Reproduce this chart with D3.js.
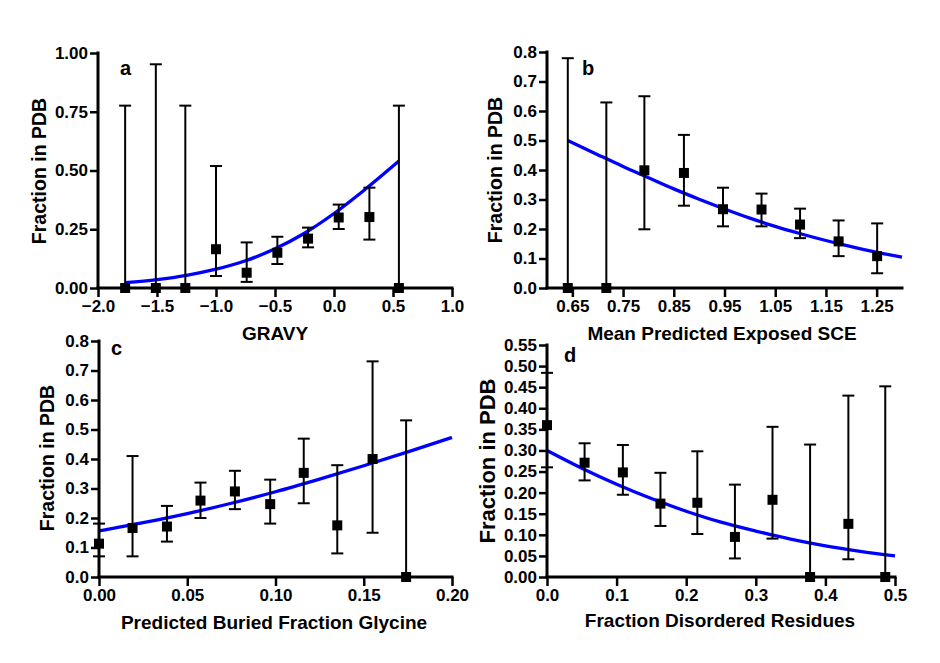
<!DOCTYPE html>
<html>
<head>
<meta charset="utf-8">
<script src="https://cdn.jsdelivr.net/npm/d3@7"></script>
<style>
  html, body { margin: 0; padding: 0; background: #fff; }
  svg { display: block; }
  text { font-family: "Liberation Sans", Arial, Helvetica, sans-serif; font-weight: bold; fill: #000; }
</style>
</head>
<body>
<svg id="chart" width="940" height="663"></svg>
<script>
// ---------- Panel a: GRAVY ----------
const aX      = [-1.77, -1.51, -1.26, -1.00, -0.74, -0.48, -0.22, 0.04, 0.30, 0.55];
const aY      = [0.00, 0.00, 0.00, 0.165, 0.065, 0.150, 0.210, 0.300, 0.302, 0.00];
const aHigh   = [0.776, 0.952, 0.776, 0.519, 0.194, 0.218, 0.257, 0.355, 0.427, 0.776];
const aLow    = [0.00, 0.00, 0.00, 0.051, 0.026, 0.102, 0.173, 0.251, 0.206, 0.00];
const aFitX   = [-1.77, -1.5, -1.25, -1.0, -0.75, -0.5, -0.25, 0.0, 0.25, 0.55];
const aFitY   = [0.023, 0.036, 0.054, 0.080, 0.116, 0.167, 0.233, 0.317, 0.414, 0.540];
const aXTicks = [-2.0, -1.5, -1.0, -0.5, 0.0, 0.5, 1.0];
const aYTicks = [0.00, 0.25, 0.50, 0.75, 1.00];

// ---------- Panel b: Mean Predicted Exposed SCE ----------
const bX      = [0.641, 0.717, 0.792, 0.870, 0.947, 1.023, 1.099, 1.175, 1.251];
const bY      = [0.00, 0.00, 0.399, 0.390, 0.267, 0.266, 0.215, 0.158, 0.108];
const bHigh   = [0.779, 0.629, 0.650, 0.519, 0.340, 0.320, 0.269, 0.229, 0.219];
const bLow    = [0.00, 0.00, 0.199, 0.279, 0.209, 0.209, 0.169, 0.108, 0.050];
const bFitX   = [0.641, 0.70, 0.75, 0.80, 0.85, 0.90, 0.95, 1.00, 1.05, 1.10, 1.15, 1.20, 1.25, 1.30];
const bFitY   = [0.500, 0.452, 0.412, 0.374, 0.336, 0.301, 0.268, 0.237, 0.209, 0.184, 0.161, 0.140, 0.121, 0.105];
const bXTicks = [0.65, 0.75, 0.85, 0.95, 1.05, 1.15, 1.25];
const bYTicks = [0.0, 0.1, 0.2, 0.3, 0.4, 0.5, 0.6, 0.7, 0.8];

// ---------- Panel c: Predicted Buried Fraction Glycine ----------
const cX      = [0.000, 0.019, 0.0385, 0.0575, 0.077, 0.097, 0.116, 0.135, 0.155, 0.174];
const cY      = [0.113, 0.166, 0.171, 0.259, 0.290, 0.247, 0.353, 0.175, 0.400, 0.000];
const cHigh   = [0.181, 0.410, 0.241, 0.320, 0.360, 0.330, 0.469, 0.379, 0.731, 0.531];
const cLow    = [0.070, 0.070, 0.120, 0.200, 0.230, 0.181, 0.250, 0.080, 0.150, 0.000];
const cFitX   = [0.0, 0.025, 0.05, 0.075, 0.10, 0.125, 0.15, 0.175, 0.20];
const cFitY   = [0.156, 0.184, 0.215, 0.250, 0.289, 0.332, 0.377, 0.424, 0.473];
const cXTicks = [0.00, 0.05, 0.10, 0.15, 0.20];
const cYTicks = [0.0, 0.1, 0.2, 0.3, 0.4, 0.5, 0.6, 0.7, 0.8];

// ---------- Panel d: Fraction Disordered Residues ----------
const dX      = [0.000, 0.054, 0.109, 0.163, 0.216, 0.270, 0.324, 0.378, 0.433, 0.486];
const dY      = [0.360, 0.271, 0.248, 0.174, 0.176, 0.095, 0.183, 0.000, 0.126, 0.000];
const dHigh   = [0.484, 0.317, 0.313, 0.247, 0.298, 0.219, 0.356, 0.314, 0.430, 0.452];
const dLow    = [0.260, 0.229, 0.195, 0.121, 0.102, 0.044, 0.091, 0.000, 0.042, 0.000];
const dFitX   = [0.0, 0.05, 0.10, 0.15, 0.20, 0.25, 0.30, 0.35, 0.40, 0.45, 0.50];
const dFitY   = [0.300, 0.258, 0.220, 0.186, 0.156, 0.130, 0.109, 0.090, 0.074, 0.061, 0.050];
const dXTicks = [0.0, 0.1, 0.2, 0.3, 0.4, 0.5];
const dYTicks = [0.00, 0.05, 0.10, 0.15, 0.20, 0.25, 0.30, 0.35, 0.40, 0.45, 0.50, 0.55];

const yTitle = "Fraction in PDB";

const panels = [
  { letter: "a", x: aX, y: aY, hi: aHigh, lo: aLow, fx: aFitX, fy: aFitY,
    xDom: [-2.0, 1.0], yDom: [0, 1.0], xTicks: aXTicks, yTicks: aYTicks, xFmt: ".1f", yFmt: ".2f",
    left: 98, right: 452, top: 53, bottom: 288,
    xTitle: "GRAVY", xTitleX: 275, xTitleY: 340, xTitleSize: 19,
    yTitleX: 46, yTitleY: 171, yTitleSize: 19.5, letterX: 120, letterY: 75 },
  { letter: "b", x: bX, y: bY, hi: bHigh, lo: bLow, fx: bFitX, fy: bFitY,
    xDom: [0.6, 1.3], yDom: [0, 0.8], xTicks: bXTicks, yTicks: bYTicks, xFmt: ".2f", yFmt: ".1f",
    left: 547, right: 902, top: 52, bottom: 288,
    xTitle: "Mean Predicted Exposed SCE", xTitleX: 722, xTitleY: 340, xTitleSize: 19,
    yTitleX: 502, yTitleY: 170, yTitleSize: 19.5, letterX: 582, letterY: 75 },
  { letter: "c", x: cX, y: cY, hi: cHigh, lo: cLow, fx: cFitX, fy: cFitY,
    xDom: [0, 0.2], yDom: [0, 0.8], xTicks: cXTicks, yTicks: cYTicks, xFmt: ".2f", yFmt: ".1f",
    left: 99, right: 452, top: 341, bottom: 577,
    xTitle: "Predicted Buried Fraction Glycine", xTitleX: 274, xTitleY: 629, xTitleSize: 19,
    yTitleX: 54, yTitleY: 458, yTitleSize: 19.5, letterX: 111, letterY: 355 },
  { letter: "d", x: dX, y: dY, hi: dHigh, lo: dLow, fx: dFitX, fy: dFitY,
    xDom: [0, 0.5], yDom: [0, 0.55], xTicks: dXTicks, yTicks: dYTicks, xFmt: ".1f", yFmt: ".2f",
    left: 547, right: 895, top: 345, bottom: 577,
    xTitle: "Fraction Disordered Residues", xTitleX: 720, xTitleY: 627, xTitleSize: 19,
    yTitleX: 495, yTitleY: 461, yTitleSize: 22, letterX: 564, letterY: 362 }
];

const svg = d3.select("#chart");
svg.append("rect").attr("width", 940).attr("height", 663).attr("fill", "#fff");

panels.forEach(p => {
  const xs = d3.scaleLinear().domain(p.xDom).range([p.left, p.right]);
  const ys = d3.scaleLinear().domain(p.yDom).range([p.bottom, p.top]);
  const g = svg.append("g");

  // fitted curve
  const line = d3.line().x(d => xs(d[0])).y(d => ys(d[1])).curve(d3.curveMonotoneX);
  g.append("path")
    .datum(p.fx.map((v, i) => [v, p.fy[i]]))
    .attr("d", line)
    .attr("fill", "none")
    .attr("stroke", "#0000ff")
    .attr("stroke-width", 3.3);

  // axes
  const xAxis = d3.axisBottom(xs).tickValues(p.xTicks).tickFormat(d3.format(p.xFmt))
    .tickSize(9).tickSizeOuter(0).tickPadding(3);
  const yAxis = d3.axisLeft(ys).tickValues(p.yTicks).tickFormat(d3.format(p.yFmt))
    .tickSize(8).tickSizeOuter(0).tickPadding(2);

  const gx = g.append("g").attr("transform", `translate(0,${p.bottom})`).call(xAxis);
  const gy = g.append("g").attr("transform", `translate(${p.left},0)`).call(yAxis);
  [gx, gy].forEach(ax => {
    ax.select(".domain").attr("stroke", "#000").attr("stroke-width", 3);
    ax.selectAll(".tick line").attr("stroke", "#000").attr("stroke-width", 2.5);
    ax.selectAll(".tick text").style("font-size", "17px").style("font-weight", "bold")
      .attr("fill", "#000").style("font-family", '"Liberation Sans", Arial, sans-serif');
  });
  gx.select(".domain").attr("d", `M${p.left - 1.5},0H${p.right + 1.5}`);
  gy.select(".domain").attr("d", `M0,${p.bottom + 1.5}V${p.top - 1.5}`);

  // error bars
  const pts = p.x.map((v, i) => ({ x: v, y: p.y[i], hi: p.hi[i], lo: p.lo[i] }));
  const eb = g.append("g").attr("stroke", "#000").attr("stroke-width", 2);
  eb.selectAll("line.v").data(pts).join("line")
    .attr("x1", d => xs(d.x)).attr("x2", d => xs(d.x))
    .attr("y1", d => ys(d.lo)).attr("y2", d => ys(d.hi));
  eb.selectAll("line.h").data(pts).join("line")
    .attr("x1", d => xs(d.x) - 6).attr("x2", d => xs(d.x) + 6)
    .attr("y1", d => ys(d.hi)).attr("y2", d => ys(d.hi));
  eb.selectAll("line.l").data(pts.filter(d => d.lo > 0)).join("line")
    .attr("x1", d => xs(d.x) - 6).attr("x2", d => xs(d.x) + 6)
    .attr("y1", d => ys(d.lo)).attr("y2", d => ys(d.lo));

  // markers
  g.selectAll("rect.m").data(pts).join("rect")
    .attr("x", d => xs(d.x) - 5).attr("y", d => ys(d.y) - 5)
    .attr("width", 10).attr("height", 10).attr("fill", "#000");

  // titles
  g.append("text").attr("x", p.xTitleX).attr("y", p.xTitleY)
    .attr("text-anchor", "middle").style("font-size", p.xTitleSize + "px").text(p.xTitle);
  g.append("text")
    .attr("transform", `translate(${p.yTitleX},${p.yTitleY}) rotate(-90)`)
    .attr("text-anchor", "middle").style("font-size", p.yTitleSize + "px").text(yTitle);
  g.append("text").attr("x", p.letterX).attr("y", p.letterY)
    .style("font-size", "20px").text(p.letter);
});
</script>
</body>
</html>
